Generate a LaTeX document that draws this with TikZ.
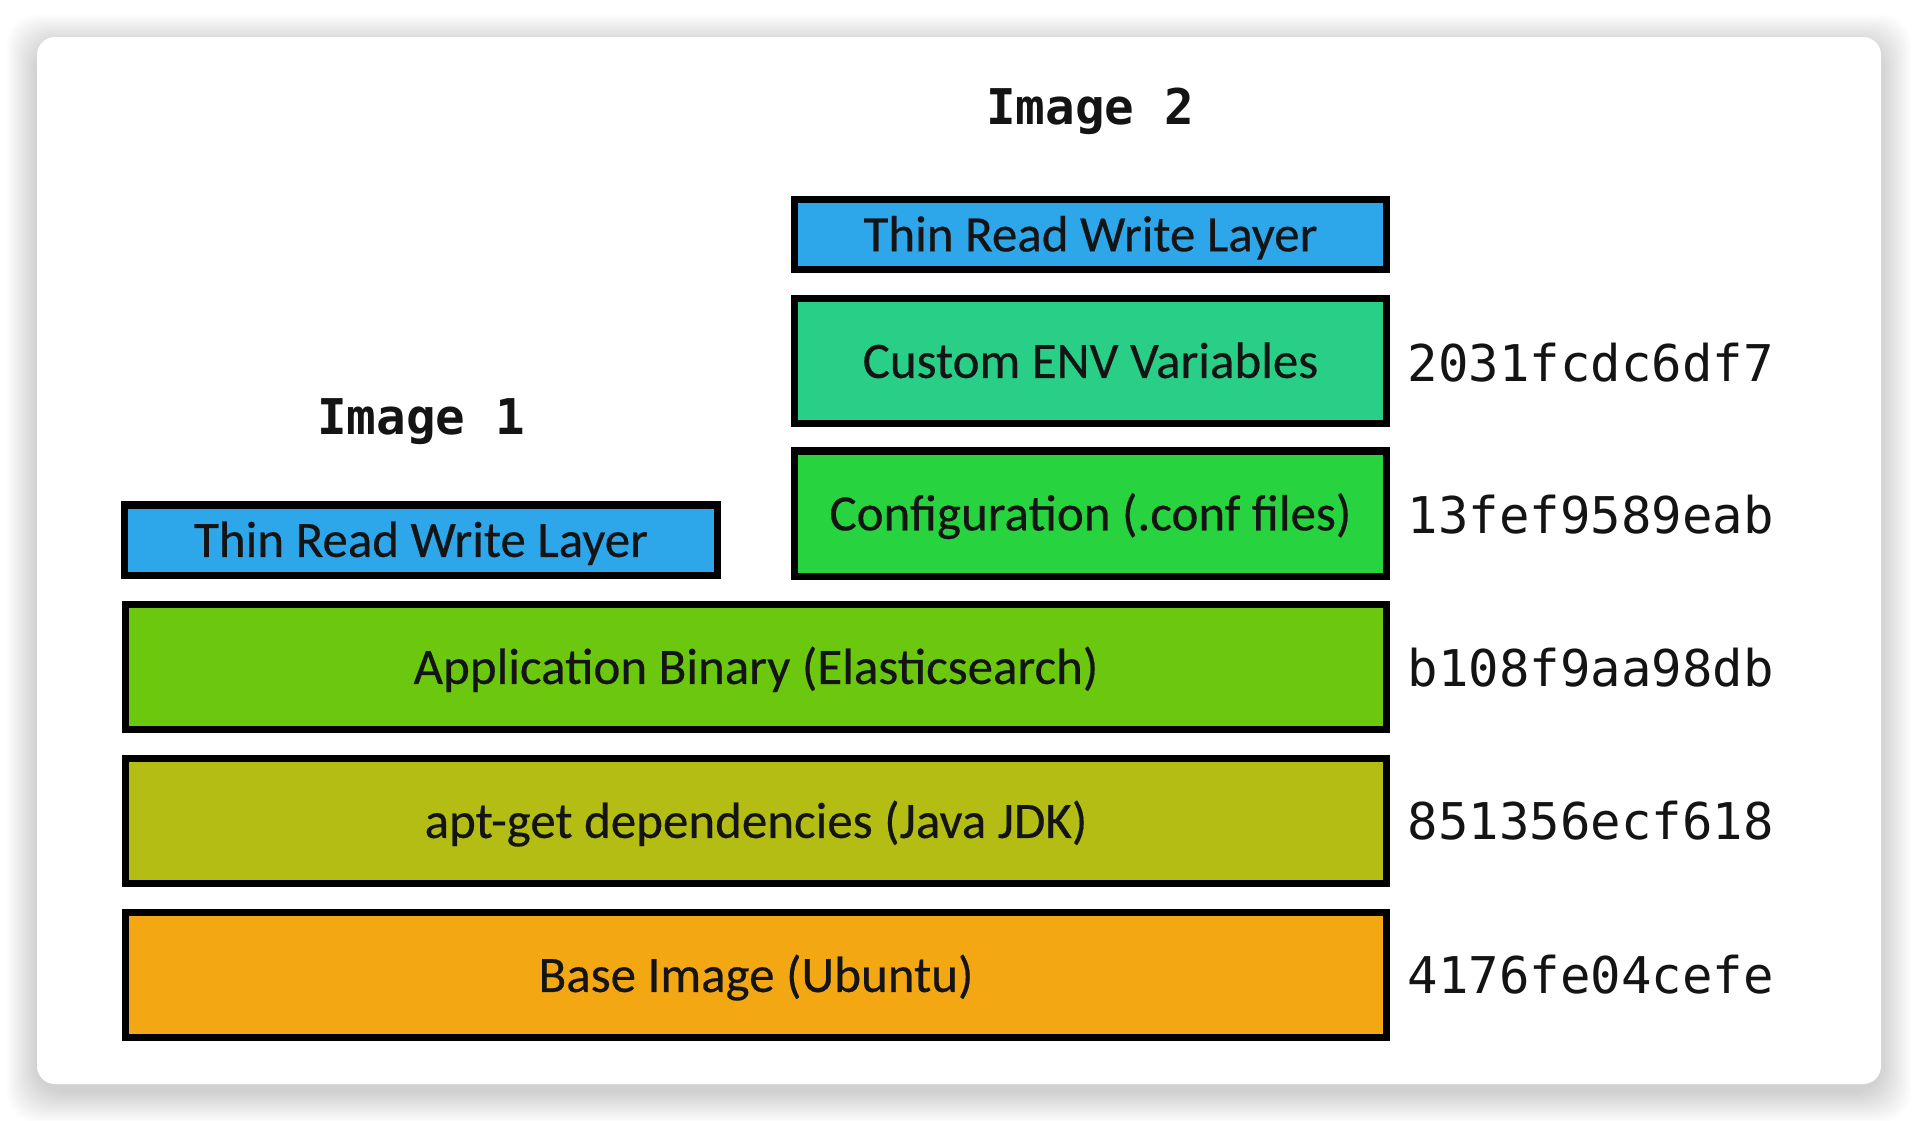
\documentclass[tikz,border=0pt]{standalone}
\usepackage{fontspec}
\setmainfont{Carlito}
\newfontfamily\layerfont{Carlito}[FakeBold=0.4]
\newfontfamily\hashfont{DejaVu Sans Mono}
\definecolor{rwblue}{HTML}{2EA6EA}
\definecolor{envgreen}{HTML}{2ACF87}
\definecolor{confgreen}{HTML}{27D33F}
\definecolor{appgreen}{HTML}{6CC70F}
\definecolor{aptolive}{HTML}{B3BD13}
\definecolor{baseorange}{HTML}{F2A713}
\definecolor{textdark}{HTML}{141414}
\begin{document}
\begin{tikzpicture}[x=0.01cm, y=-0.01cm,
  layer/.style={draw=black, line width=2pt, inner sep=0pt, text=textdark, text height=0.96em, text depth=0pt, font={\layerfont\fontsize{14.5}{17}\selectfont}},
  thinlayer/.style={layer, minimum width=5.92cm, minimum height=0.70cm, fill=rwblue},
  halflayer/.style={layer, minimum width=5.92cm, minimum height=1.25cm},
  fulllayer/.style={layer, minimum width=12.61cm, minimum height=1.25cm},
  hash/.style={anchor=west, inner sep=0pt, text=textdark, font={\hashfont\fontsize{14.4}{17}\selectfont}},
  imgtitle/.style={inner sep=0pt, text=textdark, font={\hashfont\bfseries\fontsize{14}{17}\selectfont}}]
\useasboundingbox (0,0) rectangle (1918,1120);
% card with its shadow
\foreach \d in {2,4,...,30}
  \fill[black, opacity=0.012, rounded corners=0.3cm] (37-\d,45-\d) rectangle (1881+\d,1092+\d);
\fill[white, rounded corners=0.18cm] (37,37) rectangle (1881,1084);
% titles
\node[imgtitle] (title2) at (1090,111){Image 2};
\node[imgtitle] (title1) at (421,422){Image 1};
% image 2 layers
\node[thinlayer] (rw2) at (1090.5,234.5){Thin Read Write Layer};
\node[halflayer, fill=envgreen] (env) at (1090.5,361){Custom ENV Variables};
\node[halflayer, fill=confgreen] (conf) at (1090.5,513.5){Configuration (.conf files)};
% image 1 layer
\node[thinlayer] (rw1) at (421,540){Thin Read Write Layer};
% shared layers
\node[fulllayer, fill=appgreen] (app) at (756,667){Application Binary (Elasticsearch)};
\node[fulllayer, fill=aptolive] (apt) at (756,821){apt-get dependencies (Java JDK)};
\node[fulllayer, fill=baseorange] (base) at (756,975){Base Image (Ubuntu)};
% layer ids
\node[hash] (idenv) at (1407,363){2031fcdc6df7};
\node[hash] (idconf) at (1407,515){13fef9589eab};
\node[hash] (idapp) at (1407,668){b108f9aa98db};
\node[hash] (idapt) at (1407,821){851356ecf618};
\node[hash] (idbase) at (1407,975){4176fe04cefe};
\end{tikzpicture}
\end{document}
